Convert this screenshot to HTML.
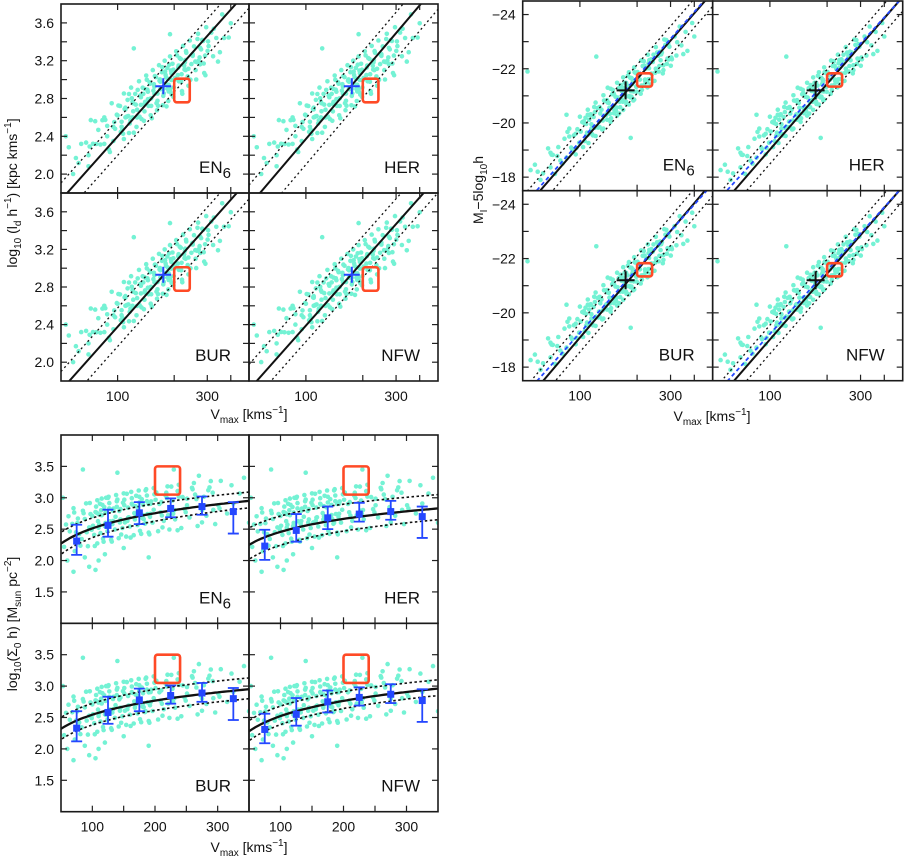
<!DOCTYPE html>
<html><head><meta charset="utf-8">
<style>
html,body{margin:0;padding:0;background:#fff;}
svg{display:block;font-family:"Liberation Sans",sans-serif;}
</style></head>
<body>
<svg id="chart" width="904" height="858" viewBox="0 0 904 858" xmlns="http://www.w3.org/2000/svg"></svg>
<script>
// ---------- data ----------
const galV = [55,62,68,70,72,74,77,79,83,85,88,90,93,95,97,99,
103,106,100,108,108,111,105,110,113,116,110,115,118,121,114,120,124,127,121,126,130,133,127,132,136,139,133,138,142,145,139,144,148,151,145,150,154,157,151,156,160,163,157,162,166,169,163,168,172,175,169,174,178,181,175,180,184,187,181,186,190,193,187,192,196,199,193,198,
205,209,201,211,214,218,210,220,223,227,219,229,232,236,228,238,242,247,238,249,255,260,251,262,268,273,264,275,282,287,278,289,296,301,292,303,
315,322,335,342,360,368,390,400,
53,60,95,105,110,88,70,120,150,190,85,140,230,270,122,190,185,
58,64,71,76,81,86,91,96,101,104,107,109,112,115,117,119,122,125,128,131,134,137,140,143,146,149,152,155,158,161,164,167,170,173,176,179,182,185,188,191,194,198,202,207,212,217,221,226,231,236,244,251,259,266,275,285,293,305,325,350];
const galLd = [2.284,2.117,2.333,2.083,2.571,2.321,2.318,2.468,2.57,2.32,2.51,2.26,2.749,2.499,2.479,2.629,
2.721,2.471,2.621,2.371,2.853,2.603,2.553,2.703,2.785,2.535,2.685,2.435,2.915,2.665,2.615,2.765,2.849,2.599,2.749,2.499,2.982,2.732,2.682,2.832,2.914,2.664,2.814,2.564,3.043,2.793,2.743,2.893,2.972,2.722,2.872,2.622,3.101,2.851,2.801,2.951,3.026,2.776,2.926,2.676,3.152,2.902,2.852,3.002,3.078,2.828,2.978,2.728,3.20,2.95,2.90,3.05,3.124,2.874,3.024,2.774,3.246,2.996,2.946,3.096,3.167,2.917,3.067,2.817,
3.299,3.049,2.999,3.149,3.228,2.978,3.128,2.878,3.357,3.107,3.057,3.207,3.284,3.034,3.184,2.934,3.414,3.164,3.114,3.264,3.351,3.101,3.251,3.001,3.485,3.235,3.185,3.335,3.42,3.17,3.32,3.07,3.554,3.304,3.254,3.404,
3.497,3.247,3.44,3.19,3.69,3.44,3.446,3.596,
2.4,2.17,2.35,2.5,2.6,2.4,2.2,2.6,2.8,2.9,2.6,2.9,3.1,3.2,3.33,3.48,2.9,
2.001,2.32,2.292,2.56,2.313,2.574,2.234,2.551,2.726,2.447,2.426,2.689,2.608,2.848,2.569,2.802,2.438,2.735,2.891,2.607,2.583,2.849,2.764,2.998,2.722,2.957,2.591,2.884,3.038,2.751,2.724,2.987,2.898,3.131,2.854,3.085,2.716,3.007,3.158,2.87,2.841,3.105,3.018,3.256,2.982,3.218,2.85,3.146,3.302,3.017,2.999,3.27,3.191,3.43,3.162,3.408,3.047,3.354,3.539,3.29];
const galMag = [-18.26,-17.90,-19.06,-18.36,-18.82,-18.12,-19.11,-18.61,-19.42,-18.72,-19.79,-19.09,-19.54,-18.84,-19.77,-19.27,
-20.03,-19.33,-20.23,-19.53,-19.96,-19.26,-20.06,-19.56,-20.29,-19.59,-20.49,-19.79,-20.22,-19.52,-20.32,-19.82,-20.55,-19.85,-20.75,-20.05,-20.49,-19.79,-20.59,-20.09,-20.82,-20.12,-21.02,-20.32,-20.74,-20.04,-20.84,-20.34,-21.06,-20.36,-21.26,-20.56,-20.97,-20.27,-21.07,-20.57,-21.28,-20.58,-21.48,-20.78,-21.18,-20.48,-21.28,-20.78,-21.48,-20.78,-21.68,-20.98,-21.38,-20.68,-21.48,-20.98,-21.67,-20.97,-21.87,-21.17,-21.56,-20.86,-21.66,-21.16,-21.85,-21.15,-22.05,-21.35,
-21.78,-21.08,-21.88,-21.38,-22.10,-21.40,-22.30,-21.60,-22.01,-21.31,-22.11,-21.61,-22.32,-21.62,-22.52,-21.82,-22.25,-21.55,-22.35,-21.85,-22.60,-21.90,-22.80,-22.10,-22.53,-21.83,-22.63,-22.13,-22.88,-22.18,-23.08,-22.38,-22.81,-22.11,-22.91,-22.41,
-23.19,-22.49,-23.56,-22.86,-23.36,-22.66,-23.69,-23.19,
-21.9,-18.2,-19.6,-20.0,-20.3,-19.5,-18.9,-20.4,-21.1,-21.6,-20.3,-21.3,-22.2,-22.6,-22.45,-21.5,-19.45,
-18.46,-18.14,-18.83,-18.78,-18.50,-19.67,-19.03,-19.08,-19.68,-19.11,-20.19,-19.64,-20.12,-19.95,-19.54,-20.59,-19.86,-19.83,-20.35,-19.76,-20.83,-20.29,-20.75,-20.56,-20.17,-21.22,-20.48,-20.44,-20.94,-20.35,-21.40,-20.85,-21.30,-21.10,-20.70,-21.74,-20.99,-20.94,-21.43,-20.83,-21.87,-21.33,-21.78,-21.60,-21.22,-22.28,-21.54,-21.50,-22.02,-21.42,-22.52,-22.0,-22.48,-22.31,-21.95,-23.06,-22.34,-22.35,-22.98,-22.54];
const galSig = [2.218,2.704,2.583,2.833,2.15,2.45,2.67,2.42,2.343,2.793,2.661,2.911,2.228,2.528,2.741,2.491,
2.409,2.859,2.709,2.959,2.273,2.573,2.773,2.523,2.437,2.887,2.737,2.987,2.30,2.60,2.80,2.55,2.465,2.915,2.765,3.015,2.33,2.63,2.83,2.58,2.494,2.944,2.794,3.044,2.356,2.656,2.856,2.606,2.519,2.969,2.819,3.069,2.382,2.682,2.882,2.632,2.543,2.993,2.843,3.093,2.404,2.704,2.904,2.654,2.565,3.015,2.865,3.115,2.425,2.725,2.925,2.675,2.586,3.036,2.886,3.136,2.445,2.745,2.945,2.695,2.604,3.054,2.904,3.154,
2.468,2.768,2.968,2.718,2.631,3.081,2.931,3.181,2.494,2.794,2.994,2.744,2.656,3.106,2.956,3.206,2.519,2.819,3.019,2.769,2.685,3.135,2.985,3.235,2.55,2.85,3.05,2.80,2.715,3.165,3.015,3.265,2.58,2.88,3.08,2.83,
2.749,3.199,3.068,3.318,2.639,2.939,3.164,2.914,
3.0,2.0,1.9,1.85,2.0,2.05,1.82,2.1,2.2,2.05,3.45,3.4,3.45,3.35,3.0,2.9,2.6,
2.574,2.464,2.766,2.597,2.236,2.754,2.451,2.917,2.553,2.232,2.76,2.626,2.904,2.723,2.348,2.853,2.54,2.998,2.625,2.302,2.829,2.696,2.972,2.789,2.415,2.921,2.607,3.063,2.689,2.365,2.891,2.756,3.031,2.847,2.472,2.977,2.662,3.117,2.742,2.417,2.942,2.808,3.084,2.901,2.528,3.035,2.721,3.178,2.805,2.481,3.011,2.88,3.159,2.978,2.607,3.119,2.807,3.269,2.908,2.601];

const panelNames = ['EN','HER','BUR','NFW'];
const panelSubs = ['6','','',''];

// top-left: log10(l_d) fits (values at V=50 and V=500)
const ldFitAt50 = [1.727,1.664,1.701,1.707];
const ldFitAt500 = [3.957,4.014,3.946,3.972];
const ldDotUp = [0.18,0.22,0.20,0.27];
const ldDotDown = [0.20,0.27,0.21,0.17];
const ldCross = [175,2.93];
const ldBoxV = [200,242];
const ldBoxY = [2.76,3.01];

// top-right: magnitude fits (values at V=60 and V=450)
const magFitAt60 = [-17.40,-17.23,-17.26,-17.23];
const magFitAt450 = [-24.46,-24.28,-24.46,-24.28];
const magBlueAt60 = [-17.55,-17.54,-17.52,-17.50];
const magBlueAt450 = [-24.50,-24.29,-24.39,-24.29];
const magDot = [0.53,0.53,0.53,0.53];
const magCross = [174,-21.2];
const magBoxV = [200,240];
const magBoxY = [-21.34,-21.83];

// bottom: surface density fits (values at V=50 and V=350)
const sigFitAt50 = [2.27,2.25,2.32,2.28];
const sigFitAt350 = [2.95,2.83,2.95,2.96];
const sigUpAt50 = [2.45,2.52,2.50,2.45];
const sigUpAt350 = [3.09,3.05,3.13,3.10];
const sigLoAt50 = [2.10,2.02,2.15,2.13];
const sigLoAt350 = [2.84,2.65,2.80,2.85];
const binV = [75,125,175,225,275,325];
const binMean = [[2.31,2.56,2.76,2.83,2.86,2.78],[2.23,2.48,2.68,2.74,2.78,2.70],[2.33,2.58,2.78,2.85,2.89,2.80],[2.31,2.55,2.75,2.82,2.87,2.77]];
const binLo = [[2.09,2.38,2.58,2.69,2.73,2.43],[2.01,2.30,2.50,2.62,2.65,2.36],[2.12,2.40,2.60,2.72,2.75,2.46],[2.09,2.37,2.58,2.69,2.73,2.43]];
const binHi = [[2.57,2.81,2.93,2.99,3.02,2.93],[2.49,2.74,2.86,2.92,2.95,2.86],[2.60,2.83,2.96,3.01,3.05,2.97],[2.56,2.81,2.93,2.98,3.03,2.95]];
const sigBoxV = [200,240];
const sigBoxY = [3.05,3.5];

// ticks
const logXTicks = [100,200,300,400];
const logXLabels = [100,300];
const ldYTicks = [2.0,2.2,2.4,2.6,2.8,3.0,3.2,3.4,3.6];
const ldYLabels = [2.0,2.4,2.8,3.2,3.6];
const magYTicks = [-18,-19,-20,-21,-22,-23,-24];
const magYLabels = [-18,-20,-22,-24];
const linXTicks = [100,150,200,250,300];
const linXLabels = [100,200,300];
const sigYTicks = [1.5,2.0,2.5,3.0,3.5];
const sigYLabels = [1.5,2.0,2.5,3.0,3.5];

// ---------- drawing ----------
const NS = 'http://www.w3.org/2000/svg';
const svg = document.getElementById('chart');
function el(tag, parent){ const e = document.createElementNS(NS, tag); parent.appendChild(e); return e; }
function set(e, o){ for (const k in o) e.setAttribute(k, o[k]); return e; }
const CYAN = '#74f2d4', BLUE = '#2447ff', RED = '#ff4a26';
let clipId = 0;

function logScale(lo, hi, p0, p1){ return v => p0 + (Math.log10(v)-Math.log10(lo))/(Math.log10(hi)-Math.log10(lo))*(p1-p0); }
function linScale(lo, hi, p0, p1){ return v => p0 + (v-lo)/(hi-lo)*(p1-p0); }
function fmtNum(v, dec){ const s = v.toFixed(dec); return s.replace('-', '\u2212'); }

function makePanel(blockName, idx, r, xs, ys, cfg){
  const g = el('g', svg);
  
  
  const cid = 'clip' + (clipId++);
  const cp = el('clipPath', g); cp.setAttribute('id', cid);
  set(el('rect', cp), {x:r.x0, y:r.y0, width:r.x1-r.x0, height:r.y1-r.y0});
  const plot = el('g', g); plot.setAttribute('clip-path', 'url(#' + cid + ')');
  
  
  const tk = el('g', g);
  
  
  cfg.xTicks.forEach(t => {
    const X = xs(t);
    set(el('line', tk), {x1:X, x2:X, y1:r.y1, y2:r.y1-6, stroke:'#222', 'stroke-width':1.2});
    set(el('line', tk), {x1:X, x2:X, y1:r.y0, y2:r.y0+6, stroke:'#222', 'stroke-width':1.2});
  });
  cfg.yTicks.forEach(t => {
    const Y = ys(t);
    set(el('line', tk), {x1:r.x0, x2:r.x0+6, y1:Y, y2:Y, stroke:'#222', 'stroke-width':1.2});
    set(el('line', tk), {x1:r.x1, x2:r.x1-6, y1:Y, y2:Y, stroke:'#222', 'stroke-width':1.2});
  });
  if (cfg.showX) cfg.xLabels.forEach(t => {
    const tx = el('text', g);
    set(tx, {x:xs(t), y:r.y1+20, 'text-anchor':'middle', 'font-size':14, fill:'#111'});
    
    
    tx.textContent = String(t);
  });
  if (cfg.showY) cfg.yLabels.forEach(t => {
    const tx = el('text', g);
    set(tx, {x:r.x0-7, y:ys(t)+5, 'text-anchor':'end', 'font-size':14, fill:'#111'});
    
    
    tx.textContent = fmtNum(t, cfg.yDec);
  });
  const lab = el('text', g);
  set(lab, {x:r.x1-18, y:r.y1-20, 'text-anchor':'end', 'font-size':17, fill:'#111'});
  
  
  lab.appendChild(document.createTextNode(panelNames[idx]));
  if (panelSubs[idx]) {
    const s = el('tspan', lab); set(s, {dy:5, 'font-size':15}); s.textContent = panelSubs[idx];
  }
  return {g, plot, r};
}

function frame(g, r){
  const f = el('rect', g);
  set(f, {x:r.x0, y:r.y0, width:r.x1-r.x0, height:r.y1-r.y0, fill:'none', stroke:'#1a1a1a', 'stroke-width':1.6});
  
  
}

function scatter(plot, xs, ys, xArr, yArr){
  const sg = el('g', plot);
  
  
  for (let i = 0; i < xArr.length; i++){
    const c = el('circle', sg);
    set(c, {cx:xs(xArr[i]).toFixed(1), cy:ys(yArr[i]).toFixed(1), r:2.3, fill:CYAN});
  }
}

function line(plot, pts, style, name){
  const p = el('polyline', plot);
  set(p, {points: pts.map(q => q[0].toFixed(1)+','+q[1].toFixed(1)).join(' '), fill:'none'});
  set(p, style);
  
  
}

function box(plot, xs, ys, bv, by){
  const x0 = xs(bv[0]), x1 = xs(bv[1]);
  const yA = ys(by[0]), yB = ys(by[1]);
  const b = el('rect', plot);
  set(b, {x:x0, y:Math.min(yA,yB), width:x1-x0, height:Math.abs(yB-yA), rx:2.5, fill:'none', stroke:RED, 'stroke-width':2.6});
  
  
}

function cross(plot, xs, ys, c, color, half, name){
  const X = xs(c[0]), Y = ys(c[1]);
  const cg = el('g', plot);
  
  
  set(el('line', cg), {x1:X-half, x2:X+half, y1:Y, y2:Y, stroke:color, 'stroke-width':2});
  set(el('line', cg), {x1:X, x2:X, y1:Y-half, y2:Y+half, stroke:color, 'stroke-width':2});
}

const solidStyle = {stroke:'#111', 'stroke-width':2};
const dotStyle = {stroke:'#111', 'stroke-width':1.3, 'stroke-dasharray':'2,3'};

// ---- Block 1: top-left ----
const tlX = [[61,249],[249,438],[61,249],[249,438]];
const tlY = [[4,193],[4,193],[193,381],[193,381]];
for (let i = 0; i < 4; i++){
  const r = {x0:tlX[i][0], x1:tlX[i][1], y0:tlY[i][0], y1:tlY[i][1]};
  const xs = logScale(50, 500, r.x0, r.x1), ys = linScale(1.8, 3.8, r.y1, r.y0);
  const P = makePanel('ld', i, r, xs, ys, {xTicks:logXTicks, xLabels:logXLabels, yTicks:ldYTicks, yLabels:ldYLabels, showX:i>=2, showY:i%2===0, yDec:1});
  scatter(P.plot, xs, ys, galV, galLd);
  line(P.plot, [[xs(50), ys(ldFitAt50[i])],[xs(500), ys(ldFitAt500[i])]], solidStyle, 'fit-line');
  line(P.plot, [[xs(50), ys(ldFitAt50[i]+ldDotUp[i])],[xs(500), ys(ldFitAt500[i]+ldDotUp[i])]], dotStyle, 'scatter-upper-line');
  line(P.plot, [[xs(50), ys(ldFitAt50[i]-ldDotDown[i])],[xs(500), ys(ldFitAt500[i]-ldDotDown[i])]], dotStyle, 'scatter-lower-line');
  box(P.plot, xs, ys, ldBoxV, ldBoxY);
  cross(P.plot, xs, ys, ldCross, BLUE, 8, 'milky-way-cross');
  frame(P.g, r);
}

// ---- Block 2: top-right ----
const trX = [[522.7,712.7],[712.7,902.7],[522.7,712.7],[712.7,902.7]];
const trY = [[1,190.7],[1,190.7],[190.7,380.7],[190.7,380.7]];
for (let i = 0; i < 4; i++){
  const r = {x0:trX[i][0], x1:trX[i][1], y0:trY[i][0], y1:trY[i][1]};
  const xs = logScale(50, 500, r.x0, r.x1), ys = linScale(-17.5, -24.5, r.y1, r.y0);
  const P = makePanel('mag', i, r, xs, ys, {xTicks:logXTicks, xLabels:logXLabels, yTicks:magYTicks, yLabels:magYLabels, showX:i>=2, showY:i%2===0, yDec:0});
  scatter(P.plot, xs, ys, galV, galMag);
  const slope = (magFitAt450[i]-magFitAt60[i])/(Math.log10(450)-Math.log10(60));
  const at = (v, off) => magFitAt60[i] + slope*(Math.log10(v)-Math.log10(60)) + off;
  line(P.plot, [[xs(40), ys(at(40,0))],[xs(600), ys(at(600,0))]], solidStyle, 'fit-line');
  line(P.plot, [[xs(40), ys(at(40,-magDot[i]))],[xs(600), ys(at(600,-magDot[i]))]], dotStyle, 'scatter-upper-line');
  line(P.plot, [[xs(40), ys(at(40,magDot[i]))],[xs(600), ys(at(600,magDot[i]))]], dotStyle, 'scatter-lower-line');
  const bs = (magBlueAt450[i]-magBlueAt60[i])/(Math.log10(450)-Math.log10(60));
  const bat = v => magBlueAt60[i] + bs*(Math.log10(v)-Math.log10(60));
  line(P.plot, [[xs(40), ys(bat(40))],[xs(600), ys(bat(600))]], {stroke:BLUE, 'stroke-width':1.8, 'stroke-dasharray':'4,3'}, 'model-line');
  box(P.plot, xs, ys, magBoxV, magBoxY);
  cross(P.plot, xs, ys, magCross, '#111', 9, 'milky-way-cross');
  frame(P.g, r);
}

// ---- Block 3: bottom ----
const bX = [[61,249],[249,438],[61,249],[249,438]];
const bY = [[435,623.3],[435,623.3],[623.3,811.7],[623.3,811.7]];
for (let i = 0; i < 4; i++){
  const r = {x0:bX[i][0], x1:bX[i][1], y0:bY[i][0], y1:bY[i][1]};
  const xs = linScale(50, 350, r.x0, r.x1), ys = linScale(1.0, 4.0, r.y1, r.y0);
  const P = makePanel('sigma', i, r, xs, ys, {xTicks:linXTicks, xLabels:linXLabels, yTicks:sigYTicks, yLabels:sigYLabels, showX:i>=2, showY:i%2===0, yDec:1});
  scatter(P.plot, xs, ys, galV, galSig);
  const curve = (a50, a350) => {
    const pts = [];
    for (let v = 45; v <= 360; v += 5){
      const y = a50 + (a350-a50)*(Math.log10(v)-Math.log10(50))/(Math.log10(350)-Math.log10(50));
      pts.push([xs(v), ys(y)]);
    }
    return pts;
  };
  line(P.plot, curve(sigFitAt50[i], sigFitAt350[i]), {stroke:'#111', 'stroke-width':2.3}, 'fit-curve');
  line(P.plot, curve(sigUpAt50[i], sigUpAt350[i]), {stroke:'#111', 'stroke-width':1.6, 'stroke-dasharray':'2.5,2.5'}, 'scatter-upper-curve');
  line(P.plot, curve(sigLoAt50[i], sigLoAt350[i]), {stroke:'#111', 'stroke-width':1.6, 'stroke-dasharray':'2.5,2.5'}, 'scatter-lower-curve');
  const eg = el('g', P.plot);
  
  
  for (let k = 0; k < binV.length; k++){
    const X = xs(binV[k]), Ym = ys(binMean[i][k]), Yl = ys(binLo[i][k]), Yh = ys(binHi[i][k]);
    set(el('line', eg), {x1:X, x2:X, y1:Yl, y2:Yh, stroke:BLUE, 'stroke-width':1.8});
    set(el('line', eg), {x1:X-5.5, x2:X+5.5, y1:Yl, y2:Yl, stroke:BLUE, 'stroke-width':1.8});
    set(el('line', eg), {x1:X-5.5, x2:X+5.5, y1:Yh, y2:Yh, stroke:BLUE, 'stroke-width':1.8});
    set(el('rect', eg), {x:X-3.5, y:Ym-3.5, width:7, height:7, fill:BLUE});
  }
  box(P.plot, xs, ys, sigBoxV, sigBoxY);
  frame(P.g, r);
}

// ---- axis titles ----
function title(x, y, rot, html, name){
  const t = el('text', svg);
  set(t, {x:x, y:y, 'text-anchor':'middle', 'font-size':14, fill:'#111'});
  if (rot) t.setAttribute('transform', 'rotate(-90 ' + x + ' ' + y + ')');
  
  
  t.innerHTML = html;
}
title(249, 419, false, 'V<tspan dy="4" font-size="10">max</tspan><tspan dy="-4"> [kms</tspan><tspan dy="-6" font-size="10">−1</tspan><tspan dy="6">]</tspan>', 'x-axis-title-ld');
title(712, 421, false, 'V<tspan dy="4" font-size="10">max</tspan><tspan dy="-4"> [kms</tspan><tspan dy="-6" font-size="10">−1</tspan><tspan dy="6">]</tspan>', 'x-axis-title-mag');
title(249, 852, false, 'V<tspan dy="4" font-size="10">max</tspan><tspan dy="-4"> [kms</tspan><tspan dy="-6" font-size="10">−1</tspan><tspan dy="6">]</tspan>', 'x-axis-title-sigma');
title(17, 193, true, 'log<tspan dy="4" font-size="10">10</tspan><tspan dy="-4"> (l</tspan><tspan dy="4" font-size="10">d</tspan><tspan dy="-4"> h</tspan><tspan dy="-6" font-size="10">−1</tspan><tspan dy="6">) [kpc kms</tspan><tspan dy="-6" font-size="10">−1</tspan><tspan dy="6">]</tspan>', 'y-axis-title-ld');
title(483, 190, true, 'M<tspan dy="4" font-size="10">I</tspan><tspan dy="-4">−5log</tspan><tspan dy="4" font-size="10">10</tspan><tspan dy="-4">h</tspan>', 'y-axis-title-mag');
title(17, 624, true, 'log<tspan dy="4" font-size="10">10</tspan><tspan dy="-4">(Σ</tspan><tspan dy="4" font-size="10">0</tspan><tspan dy="-4"> h) [M</tspan><tspan dy="4" font-size="10">sun</tspan><tspan dy="-4"> pc</tspan><tspan dy="-6" font-size="10">−2</tspan><tspan dy="6">]</tspan>', 'y-axis-title-sigma');
</script>
</body></html>
